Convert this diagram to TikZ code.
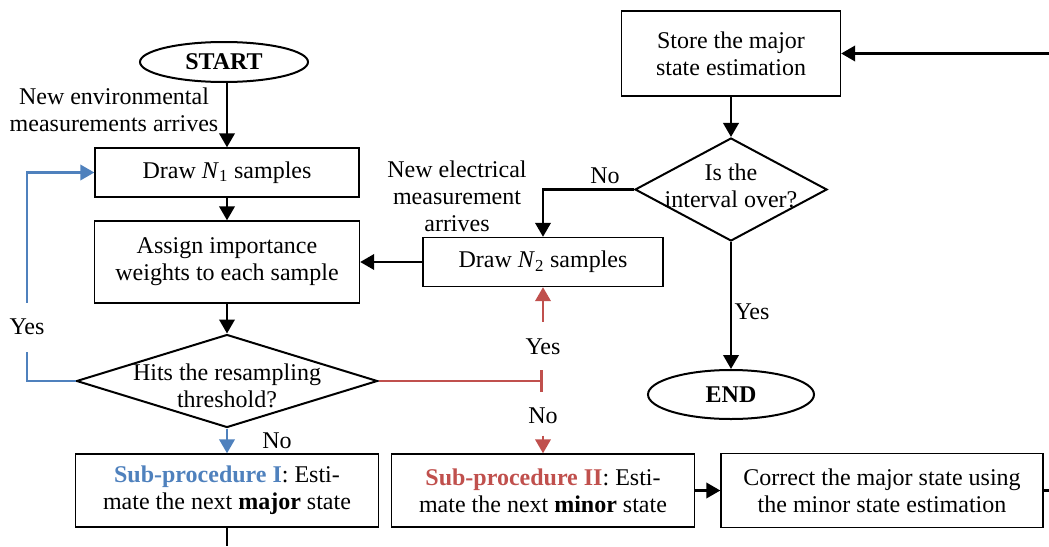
\documentclass[tikz,border=0pt]{standalone}
\usepackage{fontspec}
\setmainfont{Liberation Serif}
\usetikzlibrary{shapes.geometric,arrows.meta}

\definecolor{subblue}{RGB}{79,129,189}
\definecolor{subred}{RGB}{192,80,77}

\tikzset{every picture/.style={line width=0.75pt}}
\tikzset{
  procbox/.style={draw, rectangle, inner sep=0pt, align=center, line width=1pt},
  decision/.style={draw, diamond, inner sep=0pt, line width=1.5pt},
  terminal/.style={draw, ellipse, inner sep=0pt, line width=1.5pt, font=\fontsize{18pt}{20pt}\selectfont\bfseries},
  lbl/.style={inner sep=1pt, align=center},
  flow/.style={line width=2pt, -{Triangle[length=10.5pt,width=11.5pt]}},
  plain/.style={line width=2pt},
}

\begin{document}
\begin{tikzpicture}[x=0.75pt,y=0.75pt,yscale=-1,xscale=1,font=\fontsize{18pt}{20.25pt}\selectfont]
\useasboundingbox (0,0) rectangle (1049,546);

%Shape: Ellipse [start]
\node[terminal, minimum width=126pt, minimum height=30pt] (start) at (224,62) {START};
% Text Node
\node[lbl] (envTxt) at (114,110) {New environmental\\measurements arrives};
%Flowchart: Process
\node[procbox, minimum width=198pt, minimum height=36.75pt] (drawOne) at (227,172.5) {Draw \textit{N}\textsubscript{1} samples};
%Flowchart: Process
\node[procbox, minimum width=198.75pt, minimum height=61.5pt] (assign) at (227,262) {Assign importance\\weights to each sample};
%Flowchart: Decision
\node[decision, minimum width=225.75pt, minimum height=69.75pt] (hits) at (227,381) {};
\node[lbl] (hitsTxt) at (227,386) {Hits the resampling\\threshold?};
%Flowchart: Process
\node[procbox, minimum width=227.25pt, minimum height=54.75pt] (subOne) at (227,490.5) {\textcolor{subblue}{\textbf{Sub-procedure I}}: Esti-\\mate the next \textbf{major} state};

% Text Node
\node[lbl] (elecTxt) at (457,196) {New electrical\\measurement\\arrives};
%Flowchart: Process
\node[procbox, minimum width=180pt, minimum height=36.75pt] (drawTwo) at (543,262) {Draw \textit{N}\textsubscript{2} samples};
%Flowchart: Process
\node[procbox, minimum width=227.25pt, minimum height=54.75pt] (subTwo) at (543,490.5) {\textcolor{subred}{\textbf{Sub-procedure II}}: Esti-\\mate the next \textbf{minor} state};
%Flowchart: Process
\node[procbox, minimum width=241.5pt, minimum height=55.5pt] (correct) at (882,490.5) {Correct the major state using\\the minor state estimation};

%Flowchart: Process
\node[procbox, minimum width=164.25pt, minimum height=63.75pt] (store) at (731,53.5) {Store the major\\state estimation};
%Flowchart: Decision
\node[decision, minimum width=144pt, minimum height=77.25pt] (interval) at (731,189.5) {};
\node[lbl] (intervalTxt) at (731,186) {Is the\\interval over?};
%Shape: Ellipse [end]
\node[terminal, minimum width=124.5pt, minimum height=36.75pt] (stop) at (731,394.5) {END};

% Branch labels
\node[lbl, minimum height=36pt] (yesL) at (27,327) {Yes};
\node[lbl] (noL) at (277,441) {No};
\node[lbl, minimum height=37.5pt] (yesR) at (543,347) {Yes};
\node[lbl, minimum height=28.5pt] (noR) at (543,416) {No};
\node[lbl] (noTop) at (605,176) {No};
\node[lbl] (yesEnd) at (752,312) {Yes};

% Loose ends at the border
\coordinate (inR) at (1049,53.5);
\coordinate (outR) at (1049,490.5);
\coordinate (outB) at (227,546);
\coordinate (junc) at (543,381);

%Straight Lines
\draw[flow] (start.south -| drawOne.north) -- (drawOne.north);
\draw[flow] (drawOne) -- (assign);
\draw[flow] (assign) -- (hits);
\draw[flow, subblue] (hits.south) -- (subOne.north);
\draw[plain, subblue] (hits.west) -| (yesL.south);
\draw[flow, subblue] (yesL.north) |- (drawOne.west);
\draw[plain] (subOne.south) -- (outB);

\draw[plain, subred, -{Bar[width=16.5pt]}] (hits.east) -- (junc);
\draw[flow, subred] (yesR.north) -- (drawTwo.south);
\draw[flow, subred] (noR.south) -- (subTwo.north);
\draw[flow] (drawTwo.west) -- (assign.east);
\draw[flow] (subTwo.east) -- (correct.west);
\draw[plain] (correct.east) -- (outR);

\draw[flow] (inR) -- (store.east);
\draw[flow] (store) -- (interval);
\draw[flow] (interval.west) -| (drawTwo.north);
\draw[flow] (interval.south) -- (stop.north);

\end{tikzpicture}
\end{document}
